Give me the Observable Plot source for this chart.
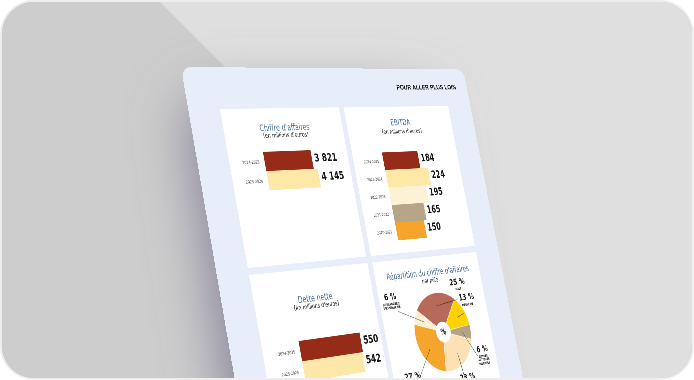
<!DOCTYPE html>
<html>
<head>
<meta charset="utf-8">
<script src="https://cdn.jsdelivr.net/npm/d3@7"></script>
<script src="https://cdn.jsdelivr.net/npm/@observablehq/plot@0.6"></script>
<style>
  html, body { margin: 0; padding: 0; background: #ffffff; }
  #frame { position: absolute; left: 0; top: 0; width: 694px; height: 380px; box-sizing: border-box;
           border: 2px solid #eeeeee; border-radius: 34px; overflow: hidden; background: #cdcdcd; }
  #bg { position: absolute; left: -2px; top: -2px; }
  #doc { position: absolute; left: -2px; top: -2px; width: 756px; height: 900px; background: #e8eef9;
         border-radius: 22px; transform-origin: 0 0; }
  .card { position: absolute; width: 300px; height: 300px; background: #ffffff; }
  .card svg { position: absolute; left: 0; top: 0; }
  .title { position: absolute; left: 0; width: 300px; text-align: center; line-height: 1;
           font-family: "Liberation Sans Narrow", "DejaVu Sans Condensed", sans-serif; color: #4b7394; font-size: 17px; }
  .sub { position: absolute; left: 0; width: 300px; text-align: center; line-height: 1;
         font-family: "Liberation Sans Narrow", "DejaVu Sans Condensed", sans-serif; color: #222; font-size: 12.5px; }
  #kicker { position: absolute; right: 34px; top: 31px; font-family: "Liberation Sans Narrow", sans-serif;
            font-weight: 700; font-size: 14.5px; color: #111; letter-spacing: 0.1px; }
</style>
</head>
<body>
<div id="frame">
  <svg id="bg" width="694" height="380">
    <defs>
      <filter id="soft" x="-100%" y="-100%" width="300%" height="300%">
        <feGaussianBlur stdDeviation="30"/>
      </filter>
    </defs>
    <rect width="694" height="380" fill="#cdcdcd"/>
    <polygon points="158,0 694,0 694,380 430,380 430,272" fill="#dfdfdf"/>
    <polygon points="189,100 420,100 470,480 244,480" fill="#7a778f" filter="url(#soft)"/>
  </svg>
  <div id="doc">
    <div id="kicker">POUR ALLER PLUS LOIN</div>
    <div class="card" id="c1" style="left:74px;top:80px"></div>
    <div class="card" id="c2" style="left:387px;top:80px"></div>
    <div class="card" id="c3" style="left:74px;top:393px"></div>
    <div class="card" id="c4" style="left:387px;top:393px"></div>
  </div>
</div>
<script>
// ---------- data ----------
const caYears = ["2024-2025", "2023-2024"];
const caValues = [3821, 4145];

const ebitdaYears = ["2024-2025", "2023-2024", "2022-2023", "2021-2022", "2020-2021"];
const ebitdaValues = [184, 224, 195, 165, 150];

const detteYears = ["2024-2025", "2023-2024"];
const detteValues = [550, 542];

const barColors = ["#962c17", "#fde8a8", "#fdf2d6", "#b6a586", "#f5a52c"];

const poles = ["MALT", "MEUNERIE", "AUTRES ACTIVITÉS", "AGRICULTURE", "NÉGOCE", "BOULANGERIE"];
const poleNames = ["MALT", "MEUNERIE", "AUTRES\nACTIVITÉS\nDIVERSES", "AGRICULTURE", "NÉGOCE", "BOULANGERIE\nVIENNOISERIE"];
const poleShares = [25, 13, 6, 23, 27, 6];
const poleColors = ["#b76a5a", "#fcd201", "#b5a386", "#fde0b4", "#f5a52c", "#fdf0d4"];

// ---------- layout (styles / positions only) ----------
const FONT = "Liberation Sans Narrow, DejaVu Sans Condensed, sans-serif";
const fr = d3.formatLocale({decimal: ",", thousands: "\u00a0", grouping: [3], currency: ["", " €"]});
const fmt = fr.format(",d");

function addTitles(el, title, sub, ty, sy) {
  const t = document.createElement("div");
  t.className = "title"; t.textContent = title; t.style.top = (ty - 8.5) + "px";
  const s = document.createElement("div");
  s.className = "sub"; s.textContent = sub; s.style.top = (sy - 6) + "px";
  el.appendChild(t); el.appendChild(s);
}

function barCard(years, values, o) {
  const rows = years.map((year, i) => ({year, value: values[i]}));
  return Plot.plot({
    width: 300, height: 300,
    marginLeft: o.x0, marginRight: 300 - o.x1, marginTop: o.y0, marginBottom: 300 - o.y1,
    style: {background: "transparent", fontFamily: FONT, overflow: "visible"},
    x: {domain: [0, o.max], axis: null},
    y: {domain: years, padding: 0, label: null},
    color: {domain: years, range: barColors.slice(0, years.length)},
    marks: [
      Plot.barX(rows, {x: "value", y: "year", fill: "year"}),
      Plot.text(rows, {x: "value", y: "year", text: d => fmt(d.value), textAnchor: "start",
                       dx: 6, dy: -3, fontSize: 21, fontWeight: 700, fill: "#141414"}),
      Plot.axisY({tickSize: 0, tickPadding: 13, fontSize: 8.5, fill: "#3a3a3a", label: null})
    ]
  });
}

// Card 1
const c1 = document.getElementById("c1");
addTitles(c1, "Chiffre d'affaires", "(en millions d'euros)", 38, 53);
c1.appendChild(barCard(caYears, caValues, {x0: 85, x1: 215, y0: 84, y1: 158, max: 4145}));

// Card 2
const c2 = document.getElementById("c2");
addTitles(c2, "EBITDA", "(en millions d'euros)", 33, 52);
c2.appendChild(barCard(ebitdaYears, ebitdaValues, {x0: 82, x1: 205, y0: 94, y1: 274, max: 224}));

// Card 3
const c3 = document.getElementById("c3");
addTitles(c3, "Dette nette", "(en millions d'euros)", 56, 71);
c3.appendChild(barCard(detteYears, detteValues, {x0: 90, x1: 246, y0: 131, y1: 208, max: 550}));

// Card 4 : pie
const c4 = document.getElementById("c4");
addTitles(c4, "Répartition du chiffre d'affaires", "par pôle", 32, 48);
{
  const START = -51.6 * Math.PI / 180;
  const arcs = d3.pie().sort(null).startAngle(START).endAngle(START + 2 * Math.PI)(poleShares);
  const pts = [];
  arcs.forEach((a, i) => {
    const n = Math.max(4, Math.ceil((a.endAngle - a.startAngle) / 0.03));
    for (let k = 0; k <= n; k++) {
      const t = a.startAngle + (a.endAngle - a.startAngle) * k / n;
      pts.push({pole: poles[i], x: Math.sin(t), y: Math.cos(t)});
    }
  });
  const shift = [42, -7, 20, 8, -5, 4];
  const lrad = [1.43, 1.3, 1.42, 1.37, 1.69, 1.9];
  const lab = arcs.map((a, i) => {
    const m = (a.startAngle + a.endAngle) / 2;
    const la = m + shift[i] * Math.PI / 180;
    const lx = Math.sin(la) * lrad[i], ly = Math.cos(la) * lrad[i];
    return {
      pole: poles[i], name: poleNames[i], pct: poleShares[i] + "\u00a0%",
      lx, ly,
      sx: lx * (1 - 0.22 / lrad[i]) , sy: ly * (1 - 0.22 / lrad[i]) - 0.22,
      ex: Math.sin(m) * 0.68, ey: Math.cos(m) * 0.68
    };
  });
  const cx = 160, cy = 154, r = 80;
  c4.appendChild(Plot.plot({
    width: 300, height: 300,
    style: {background: "transparent", fontFamily: FONT, overflow: "visible"},
    x: {domain: [-1, 1], range: [cx - r, cx + r], axis: null},
    y: {domain: [-1, 1], range: [cy + r, cy - r], axis: null},
    color: {domain: poles, range: poleColors},
    marks: [
      Plot.area(pts, {x1: () => 0, y1: () => 0, x2: "x", y2: "y", z: "pole", fill: "pole",
                      stroke: "#ffffff", strokeWidth: 1}),
      Plot.dot([0], {x: () => 0, y: () => 0, r: 21, fill: "#ffffff", stroke: "none"}),
      Plot.text(["%"], {x: () => 0, y: () => 0, text: d => d, fontSize: 17, fontWeight: 700, fill: "#151515"}),
      Plot.link(lab, {x1: "sx", y1: "sy", x2: "ex", y2: "ey", stroke: "#222", strokeWidth: 0.9}),
      Plot.text(lab, {x: "lx", y: "ly", text: "pct", fontSize: 18, fontWeight: 700, fill: "#141414", dy: -4}),
      Plot.text(lab, {x: "lx", y: "ly", text: "name", fontSize: 6.5, fontWeight: 700, fill: "#222",
                      lineAnchor: "top", dy: 8, lineHeight: 1.1})
    ]
  }));
}

// ---------- perspective placement of the document ----------
function homography(src, dst) {
  const A = [], b = [];
  for (let i = 0; i < 4; i++) {
    const [u, v] = src[i], [x, y] = dst[i];
    A.push([u, v, 1, 0, 0, 0, -u * x, -v * x]); b.push(x);
    A.push([0, 0, 0, u, v, 1, -u * y, -v * y]); b.push(y);
  }
  const n = 8;
  for (let c = 0; c < n; c++) {
    let p = c;
    for (let rr = c + 1; rr < n; rr++) if (Math.abs(A[rr][c]) > Math.abs(A[p][c])) p = rr;
    [A[c], A[p]] = [A[p], A[c]]; [b[c], b[p]] = [b[p], b[c]];
    for (let rr = 0; rr < n; rr++) {
      if (rr === c) continue;
      const f = A[rr][c] / A[c][c];
      for (let k = c; k < n; k++) A[rr][k] -= f * A[c][k];
      b[rr] -= f * b[c];
    }
  }
  return b.map((v, i) => v / A[i][i]);
}
const srcPts = [[74, 80], [687, 80], [74, 393], [687, 393]];
const dstPts = [[220, 109], [448, 106], [249, 275], [476, 252]];
const h = homography(srcPts, dstPts);
document.getElementById("doc").style.transform =
  `matrix3d(${h[0]},${h[3]},0,${h[6]},${h[1]},${h[4]},0,${h[7]},0,0,1,0,${h[2]},${h[5]},0,1)`;
</script>
</body>
</html>
